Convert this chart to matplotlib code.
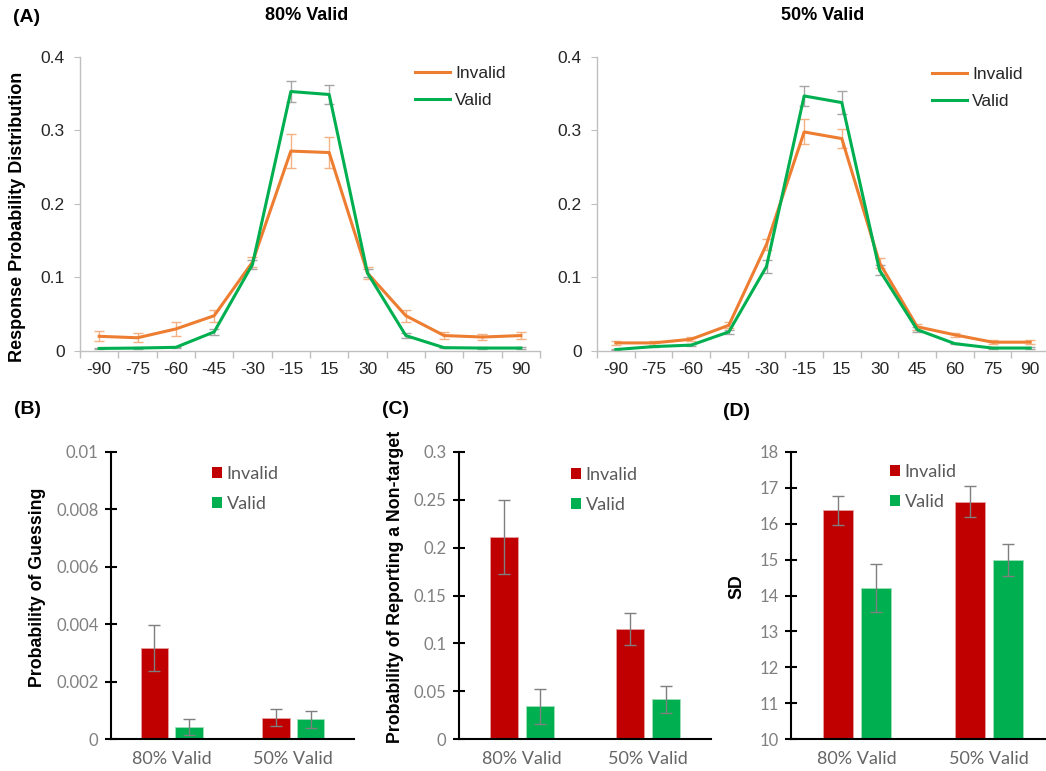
import matplotlib
matplotlib.use('Agg')
import matplotlib.pyplot as plt
import numpy as np
from matplotlib.lines import Line2D
from matplotlib.patches import Patch

plt.rcParams['font.family'] = ['Liberation Sans', 'DejaVu Sans']

# ---------------- data ----------------
offsets = ['-90', '-75', '-60', '-45', '-30', '-15', '15', '30', '45', '60', '75', '90']

inv80 = [0.020, 0.018, 0.030, 0.048, 0.121, 0.272, 0.270, 0.106, 0.048, 0.021, 0.019, 0.021]
inv80_err = [0.007, 0.006, 0.009, 0.008, 0.007, 0.023, 0.021, 0.008, 0.008, 0.005, 0.004, 0.005]
val80 = [0.0035, 0.004, 0.005, 0.026, 0.118, 0.353, 0.349, 0.106, 0.021, 0.0045, 0.004, 0.004]
val80_err = [0.001, 0.001, 0.001, 0.004, 0.006, 0.014, 0.013, 0.005, 0.003, 0.001, 0.001, 0.001]

inv50 = [0.011, 0.011, 0.016, 0.035, 0.145, 0.298, 0.289, 0.120, 0.033, 0.022, 0.012, 0.012]
inv50_err = [0.003, 0.003, 0.003, 0.004, 0.008, 0.017, 0.013, 0.007, 0.004, 0.003, 0.003, 0.003]
val50 = [0.002, 0.006, 0.008, 0.026, 0.115, 0.347, 0.338, 0.110, 0.029, 0.010, 0.004, 0.004]
val50_err = [0.001, 0.001, 0.001, 0.003, 0.009, 0.014, 0.016, 0.007, 0.003, 0.001, 0.001, 0.001]

conditions = ['80% Valid', '50% Valid']
guess_inv = [0.00318, 0.00074]
guess_inv_err = [0.0008, 0.0003]
guess_val = [0.00043, 0.00069]
guess_val_err = [0.00028, 0.0003]

nt_inv = [0.211, 0.115]
nt_inv_err = [0.039, 0.017]
nt_val = [0.034, 0.0415]
nt_val_err = [0.018, 0.0144]

sd_inv = [16.37, 16.62]
sd_inv_err = [0.40, 0.43]
sd_val = [14.21, 14.99]
sd_val_err = [0.66, 0.44]

# ---------------- style ----------------
ORANGE = '#ED7D31'
GREEN = '#00B050'
RED = '#C00000'
W, H = 1046, 771

fig = plt.figure(figsize=(W / 100, H / 100), dpi=100)


def ax_px(l, t, r, b):
    return fig.add_axes([l / W, 1 - b / H, (r - l) / W, (b - t) / H])


def top_panel(ax, inv, inv_e, val, val_e, leg_x, leg_y):
    x = np.arange(len(offsets))
    ax.errorbar(x, inv, yerr=inv_e, color=ORANGE, lw=2.2, ecolor='#F4B183',
                elinewidth=1, capsize=3.5, capthick=1)
    ax.errorbar(x, val, yerr=val_e, color=GREEN, lw=2.2, ecolor='#A6A6A6',
                elinewidth=1, capsize=3.5, capthick=1)
    ax.set_xlim(-0.5, len(offsets) - 0.5)
    ax.set_ylim(0, 0.4)
    for s in ['top', 'right']:
        ax.spines[s].set_visible(False)
    for s in ['left', 'bottom']:
        ax.spines[s].set_color('#BFBFBF')
        ax.spines[s].set_linewidth(1)
    ax.set_xticks(x)
    ax.set_xticklabels(offsets)
    ax.set_xticks(np.arange(-0.5, len(offsets), 1), minor=True)
    ax.tick_params(axis='x', which='major', length=0, pad=8, labelsize=12.5,
                   labelcolor='#262626')
    ax.tick_params(axis='x', which='minor', length=5, color='#BFBFBF', width=1)
    ax.set_yticks([0, 0.1, 0.2, 0.3, 0.4])
    ax.set_yticklabels(['0', '0.1', '0.2', '0.3', '0.4'])
    ax.tick_params(axis='y', length=4, color='#BFBFBF', pad=7, labelsize=12.5,
                   labelcolor='#262626')
    handles = [Line2D([], [], color=ORANGE, lw=2.2), Line2D([], [], color=GREEN, lw=2.2)]
    ax.legend(handles, ['Invalid', 'Valid'], loc='center left',
              bbox_to_anchor=(leg_x / W, 1 - leg_y / H), bbox_transform=fig.transFigure,
              frameon=False, fontsize=12.5, handlelength=2.0, handletextpad=0.3,
              labelspacing=0.72, borderpad=0, borderaxespad=0, labelcolor='#262626')


def bottom_panel(ax, inv, inv_e, val, val_e, ylim, yticks, ylabels, leg_x, leg_y):
    x = np.arange(len(conditions))
    ekw = dict(ecolor='#7F7F7F', elinewidth=1, capsize=4, capthick=1)
    ax.bar(x - 0.142, inv, width=0.225, color=RED, yerr=inv_e, error_kw=ekw,
           edgecolor='#E6A0A0', linewidth=0.6)
    ax.bar(x + 0.142, val, width=0.225, color=GREEN, yerr=val_e, error_kw=ekw,
           edgecolor='#9FE0B8', linewidth=0.6)
    ax.set_xlim(-0.5, len(conditions) - 0.5)
    ax.set_ylim(*ylim)
    for s in ['top', 'right']:
        ax.spines[s].set_visible(False)
    for s in ['left', 'bottom']:
        ax.spines[s].set_color('black')
        ax.spines[s].set_linewidth(1.5)
    ax.set_xticks(x)
    ax.set_xticklabels(conditions)
    ax.tick_params(axis='x', length=0, pad=9, labelsize=13, labelcolor='#666666')
    ax.set_yticks(yticks)
    ax.set_yticklabels(ylabels)
    ax.tick_params(axis='y', direction='inout', length=8, width=1.5, color='black',
                   pad=5, labelsize=12, labelcolor='#808080')
    for lab in ax.get_xticklabels() + ax.get_yticklabels():
        lab.set_fontfamily(['Lato', 'DejaVu Sans'])
    handles = [Patch(facecolor=RED), Patch(facecolor=GREEN)]
    ax.legend(handles, ['Invalid', 'Valid'], loc='center left',
              bbox_to_anchor=(leg_x / W, 1 - leg_y / H), bbox_transform=fig.transFigure,
              frameon=False, prop={'family': ['Lato', 'DejaVu Sans'], 'size': 13},
              handlelength=0.55, handleheight=0.55, handletextpad=0.25,
              labelspacing=0.8, borderpad=0, borderaxespad=0, labelcolor='#595959')


# ---------------- top panels ----------------
axA1 = ax_px(80, 57, 540, 351)
top_panel(axA1, inv80, inv80_err, val80, val80_err, 415, 87)
axA2 = ax_px(597, 57, 1049, 351)
top_panel(axA2, inv50, inv50_err, val50, val50_err, 932, 88)

fig.text(13 / W, 1 - 17 / H, '(A)', fontsize=14, fontweight='bold', ha='left', va='center')
fig.text(307 / W, 1 - 16 / H, '80% Valid', fontsize=13, fontweight='bold', ha='center', va='center')
fig.text(823 / W, 1 - 16 / H, '50% Valid', fontsize=13, fontweight='bold', ha='center', va='center')
fig.text(18 / W, 1 - 217 / H, 'Response Probability Distribution', fontsize=13,
         fontweight='bold', rotation=90, ha='center', va='center')

# ---------------- bottom panels ----------------
axB = ax_px(111, 452, 354, 739)
bottom_panel(axB, guess_inv, guess_inv_err, guess_val, guess_val_err, (0, 0.01),
             [0, 0.002, 0.004, 0.006, 0.008, 0.01],
             ['0', '0.002', '0.004', '0.006', '0.008', '0.01'], 212, 489)
axC = ax_px(459, 452, 711, 739)
bottom_panel(axC, nt_inv, nt_inv_err, nt_val, nt_val_err, (0, 0.3),
             [0, 0.05, 0.1, 0.15, 0.2, 0.25, 0.3],
             ['0', '0.05', '0.1', '0.15', '0.2', '0.25', '0.3'], 571, 490)
axD = ax_px(791, 452, 1055, 739)
bottom_panel(axD, sd_inv, sd_inv_err, sd_val, sd_val_err, (10, 18),
             list(range(10, 19)), [str(v) for v in range(10, 19)], 890, 487)

fig.text(14 / W, 1 - 410 / H, '(B)', fontsize=14, fontweight='bold', ha='left', va='center')
fig.text(382 / W, 1 - 409 / H, '(C)', fontsize=14, fontweight='bold', ha='left', va='center')
fig.text(723 / W, 1 - 411 / H, '(D)', fontsize=14, fontweight='bold', ha='left', va='center')

fig.text(38 / W, 1 - 587 / H, 'Probability of Guessing', fontsize=12.8,
         fontweight='bold', rotation=90, ha='center', va='center')
fig.text(395 / W, 1 - 587 / H, 'Probability of Reporting a Non-target', fontsize=12.8,
         fontweight='bold', rotation=90, ha='center', va='center')
fig.text(737 / W, 1 - 587 / H, 'SD', fontsize=12.8,
         fontweight='bold', rotation=90, ha='center', va='center')

fig.savefig('out.png', dpi=100)
